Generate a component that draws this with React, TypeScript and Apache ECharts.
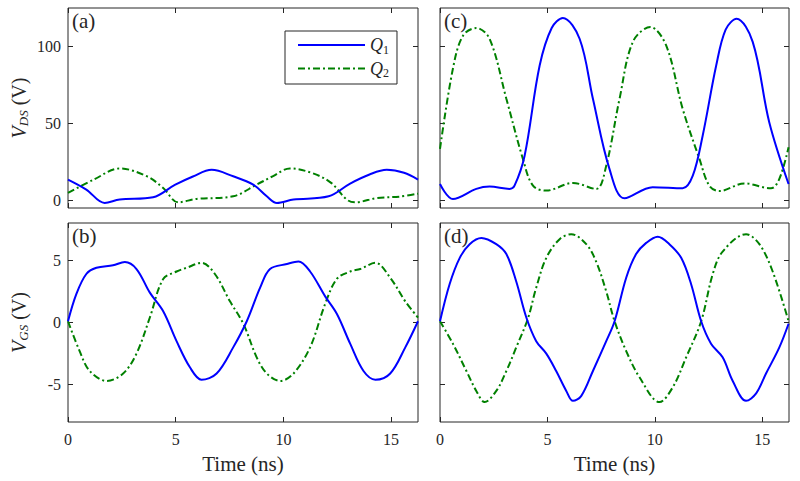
import React, { useEffect, useRef } from "react";
import * as echarts from "echarts";

// ---- data ----
const X_TICKS = [0, 5, 10, 15];
const VDS_TICKS = [0, 50, 100];
const VGS_TICKS = [-5, 0, 5];

// (a) V_DS, first case
const tA_Q1 = [0, 0.85, 1.7, 2.4, 3.95, 4.96, 5.8, 6.67, 7.67, 8.6, 9.23, 9.7, 10.47, 12.1, 13.1, 14.0, 14.8, 15.6, 16.25];
const vA_Q1 = [13.5, 7, -1.7, 0.5, 2, 10, 15.5, 19.8, 15.6, 10.2, 2.6, -1.7, 0.5, 2.6, 10.9, 16.8, 19.8, 17.9, 13.5];
const tA_Q2 = [0, 1.2, 2.4, 3.65, 4.42, 5.12, 5.97, 7.67, 8.76, 9.5, 10.3, 11.3, 12.2, 12.95, 13.33, 14.35, 15.4, 16.25];
const vA_Q2 = [4.8, 13.5, 20.7, 15.7, 8, -1.3, 0.9, 2.6, 10.2, 15.6, 20.7, 17.9, 11.5, 0.4, -1.3, 1.5, 2.4, 4.3];

// (b) V_GS, first case
const tB_Q1 = [0, 0.39, 0.85, 1.32, 2.09, 2.64, 3.18, 3.8, 4.42, 5.04, 5.66, 6.2, 6.9, 7.67, 8.3, 8.92, 9.38, 10.16, 10.7, 11.24, 11.94, 12.48, 13.1, 13.72, 14.27, 14.96, 15.66, 16.25];
const vB_Q1 = [0.1, 2.3, 3.9, 4.4, 4.6, 4.86, 4.3, 2.4, 0.9, -1.5, -3.6, -4.6, -4.1, -2.0, 0.1, 2.8, 4.3, 4.7, 4.9, 4.1, 2.1, 0.7, -1.7, -3.9, -4.6, -4.1, -2.0, 0.1];
const tB_Q2 = [0, 0.54, 1.01, 1.79, 2.56, 3.18, 3.8, 4.42, 5.04, 5.51, 6.2, 6.82, 7.52, 8.14, 8.76, 9.23, 9.85, 10.47, 11.24, 11.94, 12.48, 13.1, 13.57, 14.27, 14.96, 15.66, 16.25];
const vB_Q2 = [0.1, -2.3, -3.9, -4.7, -4.1, -2.5, 0.4, 3.5, 4.1, 4.4, 4.8, 3.9, 1.7, -0.1, -2.8, -4.1, -4.7, -4.1, -2.0, 1.5, 3.5, 4.1, 4.3, 4.8, 3.6, 1.7, 0.4];

// (c) V_DS, second case
const tC_Q1 = [0, 0.6, 1.69, 2.31, 3.24, 3.47, 3.94, 4.64, 5.2, 5.72, 6.5, 7.12, 7.89, 8.59, 9.9, 11.3, 11.77, 12.23, 12.86, 13.3, 13.81, 14.56, 15.33, 16.23];
const vC_Q1 = [10.6, 0.8, 7.4, 8.9, 7.4, 9.5, 29, 87.6, 112, 118.5, 105, 66, 20.4, 1.3, 8.5, 7.8, 16, 42, 87.6, 111, 118, 103, 50.8, 10.6];
const tC_Q2 = [0, 0.6, 1.07, 1.69, 2.31, 3.09, 3.86, 4.33, 4.95, 6.19, 7.27, 7.74, 8.36, 8.98, 9.79, 10.53, 11.3, 12.08, 12.54, 13.01, 14.17, 15.41, 15.8, 16.23];
const vC_Q2 = [33.4, 85.5, 107, 112, 105, 66, 26.9, 9.5, 6.3, 11.3, 7.4, 22.5, 66, 103, 112.6, 100.7, 59.4, 26.9, 9.5, 6, 11, 7.8, 13.9, 34.5];

// (d) V_GS, second case
const tD_Q1 = [0, 0.45, 0.92, 1.38, 1.93, 2.62, 3.09, 3.55, 4.02, 4.48, 4.95, 5.41, 5.88, 6.19, 6.58, 7.12, 7.74, 8.13, 8.67, 9.13, 9.6, 10.14, 10.68, 11.23, 11.69, 12.16, 12.62, 13.16, 13.63, 14.25, 14.72, 15.18, 15.8, 16.23];
const vD_Q1 = [0.1, 3.1, 5.2, 6.3, 6.8, 6.3, 5.5, 3.3, 0.4, -1.5, -2.5, -3.9, -5.5, -6.3, -5.9, -3.9, -1.5, 0.1, 3.6, 5.5, 6.4, 6.9, 6.3, 5.2, 3.1, 0.1, -1.7, -2.8, -4.7, -6.3, -5.7, -4.1, -2.0, -0.1];
const tD_Q2 = [0, 0.6, 1.23, 1.69, 2.08, 2.62, 3.09, 3.55, 4.09, 4.48, 4.95, 5.57, 6.11, 6.81, 7.27, 7.74, 8.13, 8.67, 9.29, 10.22, 10.84, 11.46, 12.16, 12.7, 13.16, 14.25, 14.87, 15.49, 16.23];
const vD_Q2 = [0.1, -1.7, -3.9, -5.5, -6.4, -5.5, -3.9, -2.0, 0.3, 2.8, 5.2, 6.7, 7.1, 6.3, 4.9, 2.5, 0.1, -2.3, -4.4, -6.4, -5.2, -2.8, 0.1, 3.9, 5.7, 7.1, 6.3, 4.1, 0.1];

const PANEL_LABELS = ["(a)", "(b)", "(c)", "(d)"];

const zip = (t: number[], v: number[]) => t.map((x, i) => [x, v[i]]);

const FONT = "serif";
const INK = "#262626";
const BLUE = "#0000ff";
const GREEN = "#008000";

export default function App() {
  const ref = useRef<HTMLDivElement>(null);

  useEffect(() => {
    if (!ref.current) return;
    const chart = echarts.init(ref.current, undefined, { renderer: "svg" });

    const grids = [
      { left: 68, top: 8, width: 350, height: 200 },
      { left: 68, top: 223, width: 350, height: 199 },
      { left: 440, top: 8, width: 349, height: 200 },
      { left: 440, top: 223, width: 349, height: 199 },
    ].map((g) => ({ ...g, show: true, borderColor: INK, borderWidth: 1 }));

    const nameRich = {
      v: { fontFamily: FONT, fontSize: 20, fontStyle: "italic", color: INK },
      sub: { fontFamily: FONT, fontSize: 13, fontStyle: "italic", color: INK, padding: [10, 0, 0, 0] },
      n: { fontFamily: FONT, fontSize: 20, color: INK },
    };

    const tickStyle = { inside: true, length: 5, lineStyle: { color: INK, width: 1 } };

    const xAxes: any[] = [];
    const yAxes: any[] = [];
    for (let i = 0; i < 4; i++) {
      const bottomRow = i === 1 || i === 3;
      const leftCol = i === 0 || i === 1;
      xAxes.push({
        type: "value",
        gridIndex: i,
        position: "bottom",
        min: 0,
        max: 16.25,
        axisLine: { show: false, onZero: false },
        axisTick: { ...tickStyle, customValues: X_TICKS },
        axisLabel: {
          show: bottomRow,
          customValues: X_TICKS,
          margin: 9,
          fontFamily: FONT,
          fontSize: 16,
          color: INK,
        },
        splitLine: { show: false },
        name: bottomRow ? "Time (ns)" : "",
        nameLocation: "middle",
        nameGap: 31,
        nameTextStyle: { fontFamily: FONT, fontSize: 21, color: INK },
      });
      xAxes.push({
        type: "value",
        gridIndex: i,
        position: "top",
        min: 0,
        max: 16.25,
        axisLine: { show: false, onZero: false },
        axisTick: { ...tickStyle, customValues: X_TICKS },
        axisLabel: { show: false },
        splitLine: { show: false },
      });
      const ticks = bottomRow ? VGS_TICKS : VDS_TICKS;
      const ymin = bottomRow ? -8 : -5;
      const ymax = bottomRow ? 8 : 125;
      yAxes.push({
        type: "value",
        gridIndex: i,
        position: "left",
        min: ymin,
        max: ymax,
        axisLine: { show: false, onZero: false },
        axisTick: { ...tickStyle, customValues: ticks },
        axisLabel: {
          show: leftCol,
          customValues: ticks,
          margin: 7,
          fontFamily: FONT,
          fontSize: 16,
          color: INK,
        },
        splitLine: { show: false },
        name: leftCol ? (bottomRow ? "{v|V}{sub|GS}{n| (V)}" : "{v|V}{sub|DS}{n| (V)}") : "",
        nameLocation: "middle",
        nameGap: 38,
        nameTextStyle: { fontFamily: FONT, rich: nameRich },
      });
      yAxes.push({
        type: "value",
        gridIndex: i,
        position: "right",
        min: ymin,
        max: ymax,
        axisLine: { show: false, onZero: false },
        axisTick: { ...tickStyle, customValues: ticks },
        axisLabel: { show: false },
        splitLine: { show: false },
      });
    }

    const panels = [
      [zip(tA_Q1, vA_Q1), zip(tA_Q2, vA_Q2)],
      [zip(tB_Q1, vB_Q1), zip(tB_Q2, vB_Q2)],
      [zip(tC_Q1, vC_Q1), zip(tC_Q2, vC_Q2)],
      [zip(tD_Q1, vD_Q1), zip(tD_Q2, vD_Q2)],
    ];

    const series: any[] = [];
    panels.forEach((p, i) => {
      series.push({
        type: "line",
        name: "Q1",
        xAxisIndex: i * 2,
        yAxisIndex: i * 2,
        data: p[0],
        smooth: 0.35,
        symbol: "none",
        lineStyle: { color: BLUE, width: 2 },
        itemStyle: { color: BLUE },
        z: 3,
      });
      series.push({
        type: "line",
        name: "Q2",
        xAxisIndex: i * 2,
        yAxisIndex: i * 2,
        data: p[1],
        smooth: 0.35,
        symbol: "none",
        lineStyle: { color: GREEN, width: 2, type: [7, 3, 2, 3] },
        itemStyle: { color: GREEN },
        z: 2,
      });
    });

    const labelPos = [
      { left: 72, top: 10 },
      { left: 72, top: 225 },
      { left: 444, top: 10 },
      { left: 444, top: 225 },
    ];

    chart.setOption({
      animation: false,
      backgroundColor: "#fff",
      textStyle: { fontFamily: FONT },
      grid: grids,
      xAxis: xAxes,
      yAxis: yAxes,
      series,
      legend: {
        data: ["Q1", "Q2"],
        orient: "vertical",
        left: 285,
        top: 31,
        padding: [5, 8, 5, 12],
        itemWidth: 67,
        itemHeight: 14,
        itemGap: 4,
        borderColor: INK,
        borderWidth: 1,
        backgroundColor: "#fff",
        itemStyle: { opacity: 0 },
        formatter: (name: string) => `{q|Q}{s|${name.slice(1)}}`,
        textStyle: {
          color: INK,
          fontFamily: FONT,
          rich: {
            q: { fontFamily: FONT, fontSize: 18, fontStyle: "italic", color: INK },
            s: { fontFamily: FONT, fontSize: 12, color: INK, padding: [9, 0, 0, 0] },
          },
        },
      },
      graphic: PANEL_LABELS.map((txt, i) => ({
        type: "text",
        left: labelPos[i].left,
        top: labelPos[i].top,
        z: 10,
        style: { text: txt, fontFamily: FONT, fontSize: 21, fill: INK },
      })),
    });

    return () => chart.dispose();
  }, []);

  return (
    <div
      ref={ref}
      style={{ position: "fixed", left: 0, top: 0, width: 800, height: 481, background: "#fff" }}
    />
  );
}
